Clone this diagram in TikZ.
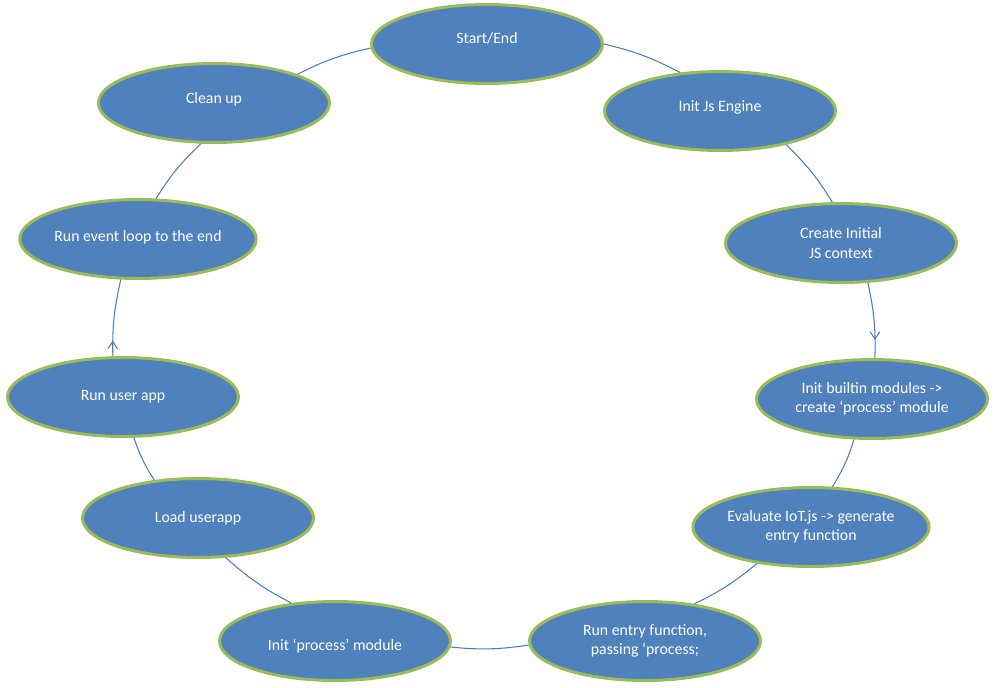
\documentclass[tikz,border=0pt]{standalone}
\usepackage{fontspec}
\setmainfont{Carlito}
\usetikzlibrary{arrows.meta,shapes.geometric,decorations.markings}
\definecolor{cellblue}{RGB}{79,129,189}
\definecolor{rimgreen}{RGB}{155,187,89}
\definecolor{linkblue}{RGB}{74,126,187}

\begin{document}
\begin{tikzpicture}[x=0.02cm,y=-0.02cm,
    stage/.style={ellipse,fill=cellblue,draw=rimgreen,line width=1.7pt,minimum width=4.62cm,minimum height=1.58cm,
      inner sep=0pt,text=white,align=center,font=\fontsize{9}{11}\selectfont},
    textpos/.style 2 args={text height=#1,text depth=#2},
    link/.style={draw=linkblue,line width=0.6pt,bend left=7},
    midarrow/.style={postaction={decorate},decoration={markings,
      mark=at position #1 with {\arrow{Straight Barb[length=1.4mm,width=1.9mm]}}}}]
  \useasboundingbox (0,0) rectangle (997,687);
  \node[stage,textpos={6.5pt}{7.5pt}] (start) at (487,44) {Start/End};
  \node[stage,textpos={6.5pt}{5.8pt}] (initjs) at (720,111) {Init Js Engine};
  \node[stage] (context) at (841,243) {Create Initial\\JS context};
  \node[stage] (builtin) at (872,399) {Init builtin modules ->\\create ‘process’ module};
  \node[stage] (evaliot) at (811,527) {Evaluate IoT.js -> generate\\entry function};
  \node[stage] (runentry) at (645,641) {Run entry function,\\passing ‘process;};
  \node[stage,textpos={12.2pt}{1.9pt}] (initproc) at (335,641) {Init ‘process’ module};
  \node[stage,textpos={6.5pt}{1.9pt}] (loadapp) at (198,518) {Load userapp};
  \node[stage,textpos={6.5pt}{3pt}] (runapp) at (123,397) {Run user app};
  \node[stage,textpos={6.5pt}{4.1pt}] (evloop) at (138,239) {Run event loop to the end};
  \node[stage,textpos={6.5pt}{6.4pt}] (cleanup) at (214,103) {Clean up};
  \draw[link] (start.0) to (initjs.136);
  \draw[link] (initjs.-27) to (context.102);
  \draw[link,midarrow=0.76] (context.-56) to (builtin.86);
  \draw[link] (builtin.-114) to (evaliot.62);
  \draw[link] (evaliot.-146) to (runentry.37);
  \draw[link] (runentry.182) to (initproc.-3);
  \draw[link] (initproc.139) to (loadapp.-55);
  \draw[link] (loadapp.139) to (runapp.-75);
  \draw[link,midarrow=0.2] (runapp.104) to (evloop.-113);
  \draw[link] (evloop.66) to (cleanup.-108);
  \draw[link] (cleanup.19) to (start.182);
\end{tikzpicture}
\end{document}
